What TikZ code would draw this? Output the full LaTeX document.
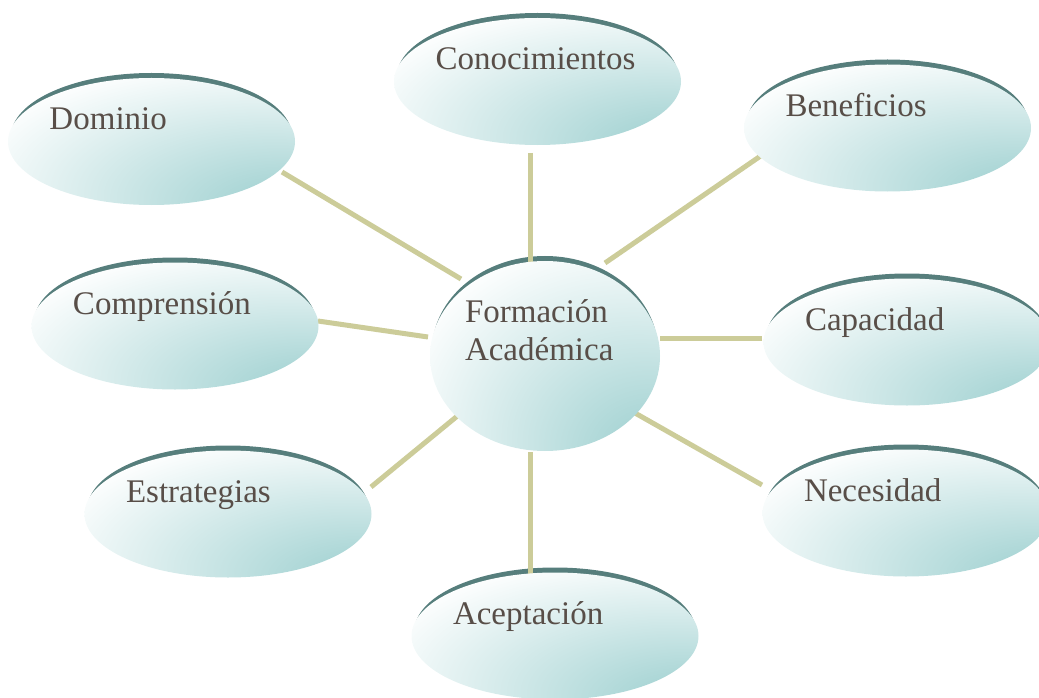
\documentclass[tikz,border=0pt]{standalone}
\usepackage{fontspec}
\newfontfamily\lbfont{Liberation Serif}
\usetikzlibrary{shapes.geometric,backgrounds}
\definecolor{tealc}{RGB}{164,211,211}
\definecolor{cresc}{RGB}{86,126,124}
\definecolor{txtc}{RGB}{88,78,72}
\definecolor{linec}{RGB}{204,204,153}
\pgfdeclareradialshading{ovalshade}{\pgfpoint{28bp}{-30bp}}{color(0bp)=(tealc); color(8bp)=(tealc); color(48bp)=(white); color(100bp)=(white)}
\tikzset{
  bubble/.style={ellipse, shade, shading=ovalshade,
    inner ysep=0pt, inner xsep=-12bp, align=left, text height=0pt,
    font=\lbfont\fontsize{33bp}{38bp}\selectfont, text=txtc},
  oval/.style={bubble, minimum width=287bp, minimum height=127bp, text width=204bp, text depth=23bp},
  hub/.style={bubble, minimum width=230bp, minimum height=190bp, text width=160bp, text depth=68bp},
  rim/.style={fill=cresc},
  link/.style={draw=linec, line width=5bp}
}
\begin{document}
\begin{tikzpicture}[x=1bp, y=-1bp]
\useasboundingbox (0,0) rectangle (1039,698);
\clip (0,0) rectangle (1039,698);
% nodes
\node[oval] (cono) at (537.5,81.5) {Conocimientos};
\node[oval] (bene) at (887.5,128) {Beneficios};
\node[oval] (domi) at (151.5,141.5) {Dominio};
\node[oval] (comp) at (175,326) {Comprensión};
\node[hub]  (form) at (545,356) {Formación\\Académica};
\node[oval] (capa) at (907,342) {Capacidad};
\node[oval] (estr) at (228,514) {Estrategias};
\node[oval] (nece) at (906,513) {Necesidad};
\node[oval] (acep) at (555,636) {Aceptación};
% connector end points
\coordinate (cono-e) at (530,153);  \coordinate (form-n)  at (530,262);
\coordinate (bene-e) at (762,155);  \coordinate (form-ne) at (605,263);
\coordinate (domi-e) at (282,172);  \coordinate (form-nw) at (461,279);
\coordinate (comp-e) at (318,321);  \coordinate (form-w)  at (428,337);
\coordinate (capa-e) at (762,338);  \coordinate (form-e)  at (660,338);
\coordinate (estr-e) at (371,487);  \coordinate (form-sw) at (461,413);
\coordinate (nece-e) at (762,485);  \coordinate (form-se) at (635,413);
\coordinate (acep-e) at (530,575);  \coordinate (form-s)  at (530,452);
\begin{scope}[on background layer]
% dark rims showing above each bubble
\foreach \n in {cono,bene,domi,comp,capa,estr,nece,acep}
  \fill[rim] ([yshift=5bp]\n.center) ellipse [x radius=140.5bp, y radius=63.5bp];
\fill[rim] ([yshift=5bp]form.center) ellipse [x radius=113bp, y radius=95bp];
% connectors
\draw[link] (cono-e) -- (form-n);
\draw[link] (bene-e) -- (form-ne);
\draw[link] (domi-e) -- (form-nw);
\draw[link] (comp-e) -- (form-w);
\draw[link] (capa-e) -- (form-e);
\draw[link] (estr-e) -- (form-sw);
\draw[link] (nece-e) -- (form-se);
\draw[link] (acep-e) -- (form-s);
\end{scope}
\end{tikzpicture}
\end{document}
